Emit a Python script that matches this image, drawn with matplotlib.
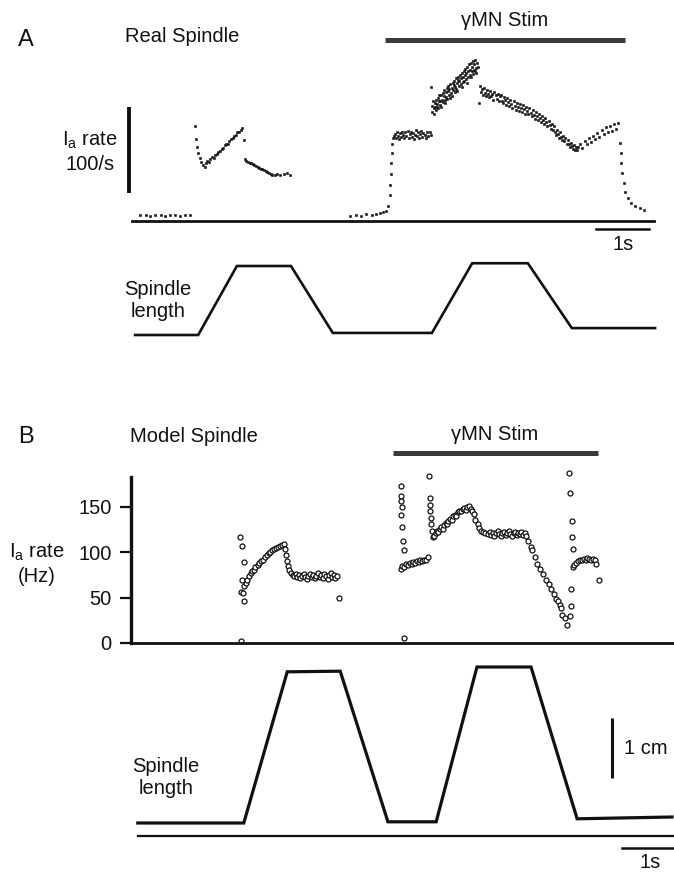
import matplotlib
matplotlib.use("Agg")
import matplotlib.pyplot as plt

plt.rcParams['font.family'] = ['Liberation Sans', 'DejaVu Sans']

W, H = 674, 873
fig = plt.figure(figsize=(W / 100, H / 100), dpi=100)

# ---------------- data (time in s, rate in spikes/s, length) ----------------
# Panel A: real spindle Ia rate
a_rest1_t = [0.14, 0.24, 0.33, 0.42, 0.52, 0.61, 0.70, 0.80, 0.89, 0.98, 1.08]
a_rest1_r = [7, 7, 6, 7, 7, 6, 7, 7, 6, 7, 7]
a_stretch1_t = [1.17, 1.19, 1.21, 1.23, 1.26, 1.29, 1.33, 1.35, 1.37, 1.40, 1.43, 1.46, 1.49,
                1.52, 1.55, 1.58, 1.61, 1.64, 1.67, 1.70, 1.73, 1.76, 1.79, 1.82, 1.85, 1.88,
                1.91, 1.94, 1.97, 2.00, 2.03, 2.06, 2.09]
a_stretch1_r = [110, 95, 86, 79, 73, 69, 65, 63, 67, 70, 69, 72, 74, 73, 77, 78, 80, 81, 84, 85,
                88, 89, 90, 93, 95, 96, 99, 100, 103, 104, 106, 108, 94]
a_hold1_t = [2.12, 2.14, 2.17, 2.20, 2.23, 2.26, 2.29, 2.32, 2.35, 2.38, 2.41, 2.44, 2.47, 2.50,
             2.53, 2.56, 2.60, 2.63, 2.67, 2.72, 2.78, 2.84, 2.90, 2.96]
a_hold1_r = [72, 70, 69, 68, 67, 66, 65, 64, 63, 62, 61, 60, 59, 58, 57, 56, 55, 54, 53, 55, 54,
             55, 56, 54]
a_rest2_t = [4.10, 4.20, 4.30, 4.40, 4.50, 4.58, 4.66, 4.72, 4.78]
a_rest2_r = [6, 7, 6, 8, 7, 8, 9, 10, 12]
a_onset_t = [4.82, 4.84, 4.85, 4.86, 4.87, 4.88, 4.89]
a_onset_r = [18, 30, 42, 55, 67, 79, 90]
a_stim_rest_t = [4.90, 4.92, 4.94, 4.96, 4.98, 5.00, 5.02, 5.04, 5.06, 5.08, 5.10, 5.12, 5.14,
                 5.16, 5.18, 5.20, 5.22, 5.24, 5.26, 5.28, 5.30, 5.32, 5.34, 5.36, 5.38, 5.40,
                 5.42, 5.44, 5.46, 5.48, 5.50, 5.52, 5.54, 5.57, 5.60, 5.63]
a_stim_rest_r = [96, 99, 101, 97, 103, 99, 95, 102, 98, 104, 100, 96, 103, 99, 105, 97, 101, 104,
                 98, 102, 95, 100, 106, 99, 103, 97, 101, 105, 98, 102, 100, 96, 103, 99, 104, 100]
a_stim_stretch_t = [5.62, 5.64, 5.65, 5.66, 5.67, 5.68, 5.69, 5.70, 5.71, 5.72, 5.73, 5.74, 5.75,
                    5.76, 5.77, 5.78, 5.79, 5.80, 5.81, 5.82, 5.83, 5.84, 5.85, 5.86, 5.87, 5.88,
                    5.89, 5.90, 5.91, 5.92, 5.93, 5.94, 5.95, 5.96, 5.97, 5.98, 5.99, 6.00, 6.01,
                    6.02, 6.03, 6.04, 6.05, 6.06, 6.07, 6.08, 6.09, 6.10, 6.11, 6.12, 6.13, 6.14,
                    6.15, 6.16, 6.17, 6.18, 6.19, 6.20, 6.21, 6.22, 6.23, 6.24, 6.25, 6.26, 6.27,
                    6.28, 6.29, 6.30, 6.31, 6.32, 6.33, 6.34, 6.35, 6.36, 6.37, 6.38, 6.39, 6.40,
                    6.41, 6.42, 6.43, 6.44, 6.45, 6.46, 6.47, 6.48, 6.49, 6.50, 6.52]
a_stim_stretch_r = [156,
                    134, 127, 139, 131, 125, 137, 133, 129, 141, 132,
                    136, 143, 131, 140, 146, 135, 139, 133, 147, 141,
                    149, 138, 145, 152, 141, 137, 150, 144, 155, 142,
                    151, 157, 146, 153, 143, 159, 149, 155, 145, 161,
                    152, 158, 163, 150, 156, 166, 154, 160, 151, 164,
                    168, 157, 163, 170, 159, 166, 156, 172, 162, 168,
                    174, 163, 170, 177, 165, 172, 161, 179, 168, 175,
                    182, 170, 176, 168, 184, 174, 179, 171, 186, 176,
                    183, 175, 187, 178, 172, 184, 179,
                    137]
a_stim_hold_t = [6.54, 6.56, 6.58, 6.60, 6.62, 6.64, 6.66, 6.68, 6.70, 6.72, 6.74, 6.76, 6.78,
                 6.80, 6.82, 6.84, 6.86, 6.88, 6.90, 6.92, 6.94, 6.96, 6.98, 7.00, 7.02, 7.04,
                 7.06, 7.08, 7.10, 7.12, 7.14, 7.16, 7.18, 7.20, 7.22, 7.24, 7.26, 7.28, 7.30,
                 7.32, 7.34, 7.36, 7.38, 7.40, 7.42, 7.44, 7.46, 7.48, 7.50, 7.52, 7.54, 7.56,
                 7.58, 7.60, 7.62, 7.64, 7.66, 7.68, 7.70, 7.72, 7.74, 7.76, 7.78, 7.80, 7.82,
                 7.84, 7.86, 7.88, 7.90, 7.92, 7.94, 7.96, 7.98, 8.00, 8.02, 8.04, 8.06, 8.08,
                 8.10, 8.12, 8.14, 8.16, 8.18, 8.20, 8.22, 8.24, 8.26, 8.28, 8.30, 8.32, 8.34,
                 8.36, 8.38]
a_stim_hold_r = [157, 150, 153, 147, 155, 149, 145, 152, 148, 144,
                 151, 145, 148, 141, 150, 146, 142, 148, 139, 145,
                 147, 140, 137, 144, 141, 135, 143, 138, 134, 141,
                 136, 131, 140, 134, 129, 137, 133, 128, 136, 131,
                 127, 135, 130, 125, 133, 128, 124, 131, 126, 122,
                 129, 123, 119, 127, 122, 117, 125, 120, 115, 122,
                 118, 113, 120, 115, 110, 116, 112, 107, 113, 106,
                 110, 104, 100, 106, 101, 97, 103, 98, 94, 99,
                 93, 97, 90, 94, 89, 86, 91, 87, 84, 88,
                 83, 86, 82]
a_stim_release_t = [8.40, 8.44, 8.48, 8.52, 8.56, 8.60, 8.64, 8.68, 8.72, 8.76, 8.80, 8.84,
                    8.88, 8.92, 8.96, 9.00, 9.04, 9.08, 9.12, 9.16]
a_stim_release_r = [86, 90, 85, 93, 89, 96, 92, 99, 95, 102, 98, 106, 101, 109, 103, 111, 105,
                    113, 107, 114]
a_off_t = [9.19, 9.20, 9.21, 9.23, 9.26, 9.29, 9.34, 9.40, 9.47, 9.56, 9.64]
a_off_r = [91, 79, 67, 56, 44, 34, 27, 21, 17, 15, 13]

# Panel A: spindle length (relative units)
a_len_t = [0.04, 1.23, 1.96, 2.98, 3.77, 5.64, 6.40, 7.45, 8.28, 9.85]
a_len_v = [0.0, 0.0, 1.0, 1.0, 0.03, 0.03, 1.04, 1.04, 0.10, 0.10]

# Panel B: model spindle Ia rate (Hz)
b_stretch1_t = [2.04, 2.02, 2.06, 2.09, 2.06, 2.10, 2.03, 2.07, 2.10, 2.13, 2.16, 2.19, 2.22,
                2.25, 2.28, 2.31, 2.35, 2.38, 2.42, 2.45, 2.49, 2.52, 2.56, 2.59, 2.63, 2.66,
                2.70, 2.73, 2.77, 2.81, 2.84]
b_stretch1_r = [2, 117, 107, 89, 69, 63, 56, 55, 46, 66, 70, 74, 77, 79, 81, 84, 86, 88, 90, 92,
                95, 97, 99, 100, 102, 104, 105, 106, 107, 108, 109]
b_hold1_t = [2.87, 2.89, 2.91, 2.93, 2.95, 2.98, 3.01, 3.04, 3.07, 3.10, 3.13, 3.16, 3.19, 3.22,
             3.25, 3.28, 3.31, 3.34, 3.37, 3.40, 3.43, 3.46, 3.49, 3.52, 3.55, 3.58, 3.61, 3.64,
             3.67, 3.70, 3.73, 3.76, 3.79, 3.82, 3.85, 3.89]
b_hold1_r = [104, 97, 90, 85, 80, 77, 75, 74, 76, 73, 75, 72, 74, 76, 73, 71, 74, 76, 73, 75, 72,
             74, 77, 73, 75, 72, 76, 74, 71, 75, 77, 73, 75, 72, 74, 50]
b_stim_rest_t = [5.11, 5.05, 5.06, 5.06, 5.07, 5.06, 5.08, 5.10, 5.12, 5.05, 5.08, 5.11, 5.15,
                 5.19, 5.22, 5.26, 5.29, 5.32, 5.36, 5.39, 5.42, 5.46, 5.49, 5.53, 5.56]
b_stim_rest_r = [6, 173, 162, 157, 150, 141, 128, 113, 102, 82, 85, 84, 87, 86, 88, 87, 89, 88,
                 90, 89, 91, 90, 92, 91, 95]
b_stim_stretch_t = [5.58, 5.60, 5.61, 5.61, 5.62, 5.63, 5.65, 5.66, 5.68, 5.71, 5.73, 5.76, 5.79,
                    5.82, 5.84, 5.87, 5.90, 5.93, 5.95, 5.98, 6.01, 6.04, 6.07, 6.10, 6.13, 6.16,
                    6.19, 6.22, 6.25, 6.28, 6.31, 6.34, 6.37]
b_stim_stretch_r = [184, 160, 152, 145, 138, 131, 124, 117, 118, 121, 124, 122, 126, 128, 126,
                    130, 132, 131, 135, 137, 136, 140, 141, 140, 144, 146, 145, 148, 149, 147,
                    150, 151, 148]
b_stim_hold_t = [6.40, 6.43, 6.46, 6.50, 6.53, 6.57, 6.61, 6.65, 6.70, 6.73, 6.76, 6.79, 6.82,
                 6.85, 6.88, 6.91, 6.94, 6.97, 7.00, 7.03, 7.06, 7.09, 7.12, 7.15, 7.18, 7.21,
                 7.24, 7.27, 7.30, 7.33, 7.36, 7.39, 7.42]
b_stim_hold_r = [146, 142, 136, 131, 127, 124, 122, 121, 120, 122, 119, 121, 118, 121, 123, 120,
                 118, 121, 122, 119, 121, 123, 120, 118, 121, 122, 119, 121, 120, 122, 119, 121,
                 118]
b_stim_release_t = [7.46, 7.50, 7.53, 7.58, 7.63, 7.68, 7.74, 7.79, 7.84, 7.89, 7.95, 7.99, 8.02,
                    8.05, 8.07, 8.10, 8.15, 8.19]
b_stim_release_r = [112, 106, 102, 95, 87, 82, 76, 70, 65, 60, 54, 49, 46, 42, 39, 31, 28, 20]
b_stim_end_t = [8.22, 8.24, 8.28, 8.29, 8.30, 8.26, 8.26, 8.24, 8.31, 8.33, 8.36, 8.40, 8.43,
                8.47, 8.50, 8.54, 8.57, 8.61, 8.64, 8.67, 8.71, 8.74, 8.80]
b_stim_end_r = [187, 165, 135, 117, 104, 59, 41, 30, 84, 86, 88, 90, 91, 92, 93, 92, 94, 93, 92,
                93, 91, 87, 70]

# Panel B: spindle length (cm)
b_len_t = [0.09, 2.09, 2.91, 3.91, 4.81, 5.72, 6.49, 7.51, 8.38, 10.17]
b_len_v = [0.0, 0.0, 2.52, 2.53, 0.02, 0.02, 2.60, 2.60, 0.07, 0.10]

# stimulation periods (s) and scale bars
a_stim = (4.75, 9.28)
b_stim = (4.91, 8.77)
rate_bar_A = 100      # spikes/s
length_bar_B = 1.0    # cm
time_bar = 1.0        # s

# ---------------- layout helpers ----------------
T0, T1 = -133 / 53, 541 / 53   # time at the left / right figure edge


def make_axes(top, bottom, v_top, v_bottom):
    ax = fig.add_axes([0, 1 - bottom / H, 1, (bottom - top) / H])
    ax.set_xlim(T0, T1)
    ax.set_ylim(v_bottom, v_top)
    ax.set_axis_off()
    return ax


def ftext(x, y, s, size=14.5, ha='left', va='center', **kw):
    fig.text(x / W, 1 - y / H, s, fontsize=size, ha=ha, va=va, color='#111111', **kw)


def tfrac(t):
    return (t - T0) / (T1 - T0)


ink = '#111111'
bar_grey = '#3a3a3a'

# ---------------- Panel A: rate ----------------
axA = make_axes(0, 240, (221 - 0) / 0.86, (221 - 240) / 0.86)
for tt, rr in [(a_rest1_t, a_rest1_r), (a_stretch1_t, a_stretch1_r), (a_hold1_t, a_hold1_r),
               (a_rest2_t, a_rest2_r), (a_onset_t, a_onset_r),
               (a_stim_rest_t, a_stim_rest_r), (a_stim_stretch_t, a_stim_stretch_r),
               (a_stim_hold_t, a_stim_hold_r), (a_stim_release_t, a_stim_release_r),
               (a_off_t, a_off_r)]:
    axA.plot(tt, rr, ls='none', marker='s', ms=2.1, mew=0.4, color=ink)
axA.axhline(0, xmin=tfrac(-0.02), xmax=tfrac(9.83), color=ink, lw=2.0)
axA.plot([-0.075, -0.075], [32.6, 32.6 + rate_bar_A], color=ink, lw=2.8, solid_capstyle='butt')
axA.plot(list(a_stim), [210, 210], color=bar_grey, lw=3.6, solid_capstyle='butt')
axA.plot([8.74, 8.74 + time_bar], [-9.3, -9.3], color=ink, lw=1.8)

# ---------------- Panel A: length ----------------
axAl = make_axes(240, 360, (335 - 240) / 69, (335 - 360) / 69)
axAl.plot(a_len_t, a_len_v, color=ink, lw=1.9, solid_joinstyle='miter')

# ---------------- Panel B: rate ----------------
axB = fig.add_axes([0, 1 - 660 / H, 1, 260 / H])
axB.set_xlim(T0, T1)
axB.set_ylim((643 - 660) / 0.907, (643 - 400) / 0.907)
axB.patch.set_visible(False)
for s in ['top', 'right', 'bottom']:
    axB.spines[s].set_visible(False)
axB.spines['left'].set_position(('data', -0.04))
axB.spines['left'].set_bounds(0, 183)
axB.spines['left'].set_linewidth(2.4)
axB.spines['left'].set_color(ink)
axB.set_xticks([])
axB.set_yticks([0, 50, 100, 150])
axB.tick_params(axis='y', direction='out', length=8, width=1.6, pad=6, labelsize=14.5,
                colors=ink)
for tt, rr in [(b_stretch1_t, b_stretch1_r), (b_hold1_t, b_hold1_r),
               (b_stim_rest_t, b_stim_rest_r), (b_stim_stretch_t, b_stim_stretch_r),
               (b_stim_hold_t, b_stim_hold_r), (b_stim_release_t, b_stim_release_r),
               (b_stim_end_t, b_stim_end_r)]:
    axB.plot(tt, rr, ls='none', marker='o', ms=3.6, mew=0.9, mfc='white', mec=ink)
axB.axhline(0, xmin=tfrac(-0.04), xmax=1, color=ink, lw=2.0)
axB.plot(list(b_stim), [209.5, 209.5], color=bar_grey, lw=3.6, solid_capstyle='butt')

# ---------------- Panel B: length ----------------
axBl = make_axes(660, 873, (823 - 660) / 60, (823 - 873) / 60)
axBl.plot(b_len_t, b_len_v, color=ink, lw=2.3, solid_joinstyle='miter')
axBl.axhline(-0.22, xmin=tfrac(0.09), xmax=1, color=ink, lw=1.6)
axBl.plot([9.04, 9.04], [0.75, 0.75 + length_bar_B], color=ink, lw=2.2, solid_capstyle='butt')
axBl.plot([9.23, 9.23 + time_bar], [-0.42, -0.42], color=ink, lw=1.8)

# ---------------- text ----------------
ftext(18, 40, 'A', size=17)
ftext(125, 37, 'Real Spindle')
ftext(505, 20, '\u03b3MN Stim', ha='center')
ftext(118, 140, 'I$_{\\mathregular{a}}$ rate', ha='right')
ftext(115, 165, '100/s', ha='right')
ftext(623, 245, '1s', ha='center')
ftext(158, 290, 'Spindle', ha='center')
ftext(158, 311, 'length', ha='center')

ftext(18, 437, 'B', size=17)
ftext(130, 437, 'Model Spindle')
ftext(495, 435, '\u03b3MN Stim', ha='center')
ftext(37, 552, 'I$_{\\mathregular{a}}$ rate', ha='center')
ftext(37, 577, '(Hz)', ha='center')
ftext(624, 748, '1 cm')
ftext(650, 863, '1s', ha='center')
ftext(166, 767, 'Spindle', ha='center')
ftext(166, 789, 'length', ha='center')

fig.savefig('out.png', dpi=100)
